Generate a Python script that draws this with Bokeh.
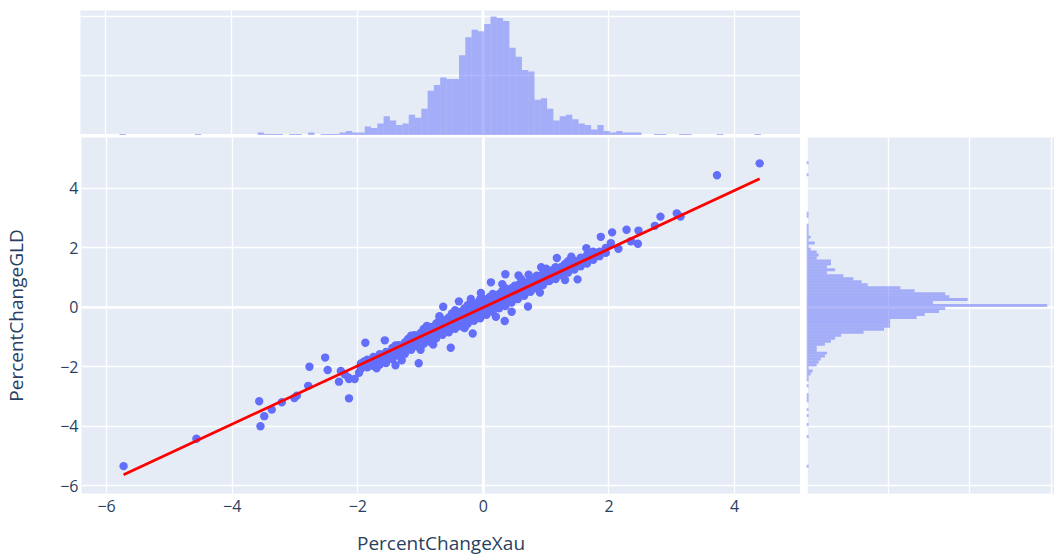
import numpy as np
from bokeh.plotting import figure
from bokeh.layouts import column, row
from bokeh.models import Range1d, FixedTicker, Span, Spacer
from bokeh.embed import file_html
from bokeh.resources import INLINE

# Daily percentage change: spot gold (Xau) against the GLD ETF
pct_change_xau = [
    # tails and stray points
    -5.73, -4.57, -3.57, -3.49, -3.55, -3.37, -3.21, -3.01, -2.97, -2.79,
    -2.77, -2.52, -2.48, -2.30, -2.27, -2.21, -2.15, -2.14, -2.05, -2.14,
    -1.88, -1.57, -1.03, -1.00, -0.64, -0.52, -0.17, 0.12, 0.35, 0.56,
    0.72, 0.34, 0.71, 1.50, 1.17, 0.92, 1.64, 1.87, 2.05, 2.28,
    2.47, 2.46, 2.35, 2.15, 2.03, 2.73, 2.82, 3.08, 3.14, 3.72,
    4.40, -0.39, -0.04, 1.71,
    -1.30, -0.80, -0.30, 0.20, 0.45, 0.90, 1.30, -0.70, -0.20, 0.30,
    0.60, 1.00, 1.40, -1.70, -1.40, -1.98,
    # main cloud
    -1.95, -1.95,
    -1.85, -1.85, -1.85,
    -1.75, -1.75, -1.75,
    -1.65, -1.65, -1.65,
    -1.55, -1.55, -1.55,
    -1.45, -1.45, -1.45,
    -1.35, -1.35, -1.35,
    -1.25, -1.25, -1.25,
    -1.15, -1.15, -1.15, -1.15,
    -1.05, -1.05, -1.05,
    -0.95, -0.95, -0.95, -0.95,
    -0.85, -0.85, -0.85, -0.85,
    -0.75, -0.75, -0.75, -0.75,
    -0.65, -0.65, -0.65, -0.65,
    -0.55, -0.55, -0.55, -0.55,
    -0.45, -0.45, -0.45, -0.45, -0.45,
    -0.35, -0.35, -0.35, -0.35,
    -0.25, -0.25, -0.25, -0.25, -0.25,
    -0.15, -0.15, -0.15, -0.15,
    -0.05, -0.05, -0.05, -0.05, -0.05,
    0.05, 0.05, 0.05, 0.05,
    0.15, 0.15, 0.15, 0.15, 0.15,
    0.25, 0.25, 0.25, 0.25,
    0.35, 0.35, 0.35, 0.35, 0.35,
    0.45, 0.45, 0.45, 0.45,
    0.55, 0.55, 0.55, 0.55,
    0.65, 0.65, 0.65, 0.65,
    0.75, 0.75, 0.75, 0.75,
    0.85, 0.85, 0.85, 0.85,
    0.95, 0.95, 0.95, 0.95,
    1.05, 1.05, 1.05,
    1.15, 1.15, 1.15, 1.15,
    1.25, 1.25, 1.25,
    1.35, 1.35, 1.35, 1.35,
    1.45, 1.45, 1.45,
    1.55, 1.55, 1.55,
    1.65, 1.65, 1.65,
    1.75, 1.75, 1.75,
    1.85, 1.85,
    1.95, 1.95,
    -1.90, -1.90,
    -1.80, -1.80,
    -1.70, -1.70,
    -1.60, -1.60,
    -1.50, -1.50,
    -1.40, -1.40, -1.40,
    -1.30, -1.30,
    -1.20, -1.20, -1.20,
    -1.10, -1.10, -1.10,
    -1.00, -1.00, -1.00,
    -0.90, -0.90, -0.90, -0.90,
    -0.80, -0.80, -0.80,
    -0.70, -0.70, -0.70, -0.70,
    -0.60, -0.60, -0.60,
    -0.50, -0.50, -0.50, -0.50,
    -0.40, -0.40, -0.40,
    -0.30, -0.30, -0.30, -0.30,
    -0.20, -0.20, -0.20,
    -0.10, -0.10, -0.10, -0.10,
    0.00, 0.00, 0.00, 0.00,
    0.10, 0.10, 0.10, 0.10,
    0.20, 0.20, 0.20,
    0.30, 0.30, 0.30, 0.30,
    0.40, 0.40, 0.40,
    0.50, 0.50, 0.50, 0.50,
    0.60, 0.60, 0.60,
    0.70, 0.70, 0.70,
    0.80, 0.80, 0.80,
    0.90, 0.90, 0.90,
    1.00, 1.00,
    1.10, 1.10, 1.10,
    1.20, 1.20,
    1.30, 1.30, 1.30,
    1.40, 1.40,
    1.50, 1.50,
    1.60, 1.60,
    1.70, 1.70,
    1.80,
    1.90,
]
pct_change_gld = [
    # tails and stray points
    -5.34, -4.42, -3.16, -3.66, -4.00, -3.44, -3.19, -3.05, -2.97, -2.64,
    -2.00, -1.69, -2.11, -2.50, -2.14, -2.25, -2.36, -2.41, -2.41, -3.06,
    -1.19, -1.11, -1.88, -1.43, 0.02, -1.36, -0.88, 0.84, 1.11, 1.07,
    1.10, -0.46, 0.03, 0.94, 1.66, 1.35, 1.99, 2.37, 2.52, 2.61,
    2.58, 2.14, 2.22, 1.97, 2.16, 2.74, 3.05, 3.16, 3.05, 4.44,
    4.84, 0.20, 0.48, 1.82,
    -1.78, -1.25, -0.70, -0.32, -0.15, 0.50, 0.92, -0.30, 0.28, 0.78,
    0.95, 1.30, 1.70, -2.05, -1.95, -2.20,
    # main cloud
    -2.07, -1.89,
    -2.02, -1.87, -1.76,
    -1.97, -1.80, -1.67,
    -1.92, -1.74, -1.58,
    -1.87, -1.67, -1.50,
    -1.74, -1.56, -1.37,
    -1.63, -1.43, -1.27,
    -1.56, -1.36, -1.18,
    -1.43, -1.25, -1.07, -0.95,
    -1.31, -1.13, -0.95,
    -1.23, -1.05, -0.88, -0.73,
    -1.16, -0.99, -0.82, -0.66,
    -1.04, -0.86, -0.69, -0.54,
    -0.92, -0.74, -0.58, -0.42,
    -0.84, -0.67, -0.50, -0.34,
    -0.72, -0.54, -0.38, -0.22, -0.10,
    -0.64, -0.46, -0.29, -0.14,
    -0.55, -0.39, -0.22, -0.07, 0.07,
    -0.45, -0.27, -0.11, 0.05,
    -0.37, -0.20, -0.03, 0.13, 0.28,
    -0.25, -0.07, 0.10, 0.25,
    -0.15, 0.01, 0.18, 0.33, 0.45,
    -0.03, 0.15, 0.31, 0.45,
    0.04, 0.21, 0.38, 0.52, 0.64,
    0.16, 0.34, 0.50, 0.64,
    0.28, 0.44, 0.59, 0.74,
    0.39, 0.56, 0.71, 0.84,
    0.52, 0.68, 0.82, 0.94,
    0.64, 0.79, 0.94, 1.06,
    0.75, 0.89, 1.03, 1.13,
    0.88, 1.03, 1.17,
    0.95, 1.10, 1.25, 1.35,
    1.08, 1.23, 1.37,
    1.17, 1.31, 1.45, 1.55,
    1.27, 1.42, 1.56,
    1.38, 1.54, 1.67,
    1.47, 1.62, 1.76,
    1.60, 1.75, 1.87,
    1.72, 1.87,
    1.83, 2.00,
    -1.97, -1.82,
    -1.95, -1.79,
    -1.89, -1.72,
    -1.82, -1.63,
    -1.72, -1.53,
    -1.60, -1.42, -1.28,
    -1.48, -1.30,
    -1.40, -1.22, -1.06,
    -1.28, -1.10, -0.94,
    -1.18, -1.02, -0.86,
    -1.10, -0.93, -0.78, -0.63,
    -0.99, -0.83, -0.67,
    -0.89, -0.72, -0.57, -0.42,
    -0.81, -0.64, -0.49,
    -0.69, -0.53, -0.37, -0.21,
    -0.59, -0.43, -0.27,
    -0.52, -0.35, -0.20, -0.04,
    -0.40, -0.24, -0.08,
    -0.32, -0.16, 0.00, 0.15,
    -0.20, -0.04, 0.12, 0.28,
    -0.12, 0.05, 0.20, 0.35,
    0.00, 0.16, 0.32,
    0.08, 0.25, 0.40, 0.55,
    0.19, 0.35, 0.51,
    0.29, 0.44, 0.59, 0.73,
    0.41, 0.56, 0.71,
    0.53, 0.69, 0.83,
    0.64, 0.79, 0.93,
    0.76, 0.91, 1.04,
    0.88, 1.03,
    0.98, 1.13, 1.25,
    1.10, 1.25,
    1.20, 1.35, 1.46,
    1.31, 1.46,
    1.41, 1.55,
    1.51, 1.65,
    1.62, 1.75,
    1.77,
    1.85,
]
assert len(pct_change_xau) == len(pct_change_gld)

# Marginal histogram counts, bins of width 0.1
bin_width = 0.1
xau_bin_start = -5.78
xau_counts = [
    1, 0, 0, 0, 0, 0, 0, 0, 0, 0,
    0, 0, 1, 0, 0, 0, 0, 0, 0, 0,
    0, 0, 2, 1, 1, 1, 0, 1, 1, 0,
    2, 0, 1, 1, 1, 2, 3, 2, 2, 6,
    5, 8, 13, 10, 7, 8, 14, 12, 18, 30,
    34, 39, 38, 38, 54, 66, 71, 70, 75, 80,
    79, 77, 59, 53, 44, 43, 24, 25, 18, 10,
    13, 14, 11, 8, 7, 4, 7, 3, 2, 3,
    2, 2, 2, 0, 0, 1, 1, 0, 0, 1,
    1, 0, 0, 0, 0, 1, 0, 0, 0, 0,
    0, 1,
]
gld_bin_start = -5.39
gld_counts = [
    1, 0, 0, 0, 0, 0, 0, 0, 0, 0,
    1, 0, 0, 0, 1, 0, 0, 1, 0, 1,
    0, 0, 1, 1, 1, 0, 0, 1, 0, 1,
    1, 2, 3, 1, 5, 6, 7, 9, 10, 5,
    5, 9, 12, 14, 17, 28, 38, 41, 41, 41,
    54, 58, 65, 68, 118, 62, 79, 70, 68, 53,
    46, 30, 27, 23, 18, 10, 14, 10, 12, 12,
    5, 6, 5, 2, 1, 4, 1, 2, 1, 1,
    1, 1, 0, 0, 1, 1, 0, 0, 0, 0,
    0, 0, 0, 0, 0, 0, 0, 0, 1, 0,
    0, 0, 1,
]

# OLS trendline of GLD on Xau
trend_slope = 0.982
trend_intercept = 0.0

axis_ticks = [-6, -4, -2, 0, 2, 4]
count_ticks = [40, 80, 120]

BG = "#E5ECF6"
MARK = "#636EFA"
TEXT = "#2a3f5f"
FONT = "Open Sans"
GRID_W = 1.4
ZERO_W = 2.8

x_rng = Range1d(-6.40, 5.05)
y_rng = Range1d(-6.26, 5.71)


def base_style(p):
    p.background_fill_color = BG
    p.border_fill_color = "white"
    p.outline_line_color = None
    for g in (p.xgrid, p.ygrid):
        g.grid_line_color = "white"
        g.grid_line_width = GRID_W


def zero_lines(p):
    # zero lines sit under the data, like the grid
    for dim in ("height", "width"):
        p.add_layout(Span(location=0, dimension=dim, level="underlay",
                          line_color="white", line_width=ZERO_W))


# ---- main scatter ----
main = figure(width=800, height=423, x_range=x_rng, y_range=y_rng,
              output_backend="svg", toolbar_location=None,
              min_border_left=80, min_border_right=0,
              min_border_top=2, min_border_bottom=63)
base_style(main)
zero_lines(main)

main.scatter(pct_change_xau, pct_change_gld, size=8.4, color=MARK,
             line_color=None)
x_lo, x_hi = min(pct_change_xau), max(pct_change_xau)
main.line([x_lo, x_hi],
          [trend_intercept + trend_slope * x_lo, trend_intercept + trend_slope * x_hi],
          line_color="red", line_width=2.8)

labels = {t: str(t).replace("-", "\u2212") for t in axis_ticks}
for ax in (main.xaxis, main.yaxis):
    ax.ticker = FixedTicker(ticks=axis_ticks)
    ax.major_label_overrides = labels
    ax.axis_line_color = None
    ax.major_tick_line_color = None
    ax.minor_tick_line_color = None
    ax.major_tick_out = 0
    ax.major_tick_in = 0
    ax.major_label_text_font = FONT
    ax.major_label_text_font_size = "16px"
    ax.major_label_text_color = TEXT
    ax.axis_label_text_font = FONT
    ax.axis_label_text_font_size = "19px"
    ax.axis_label_text_font_style = "normal"
    ax.axis_label_text_color = TEXT
main.xaxis.axis_label = "PercentChangeXau"
main.yaxis.axis_label = "PercentChangeGLD"
main.xaxis.major_label_standoff = 6
main.xaxis.axis_label_standoff = 15
main.yaxis.major_label_standoff = 3
main.yaxis.axis_label_standoff = 28
main.xgrid.ticker = FixedTicker(ticks=axis_ticks)
main.ygrid.ticker = FixedTicker(ticks=axis_ticks)

# ---- top marginal histogram (Xau) ----
top = figure(width=800, height=135, x_range=x_rng, y_range=Range1d(0, 84),
             output_backend="svg", toolbar_location=None,
             x_axis_location=None, y_axis_location=None,
             min_border_left=80, min_border_right=0,
             min_border_top=10, min_border_bottom=0)
base_style(top)
top.xgrid.ticker = FixedTicker(ticks=axis_ticks)
top.ygrid.ticker = FixedTicker(ticks=count_ticks)
zero_lines(top)
xe = xau_bin_start + bin_width * np.arange(len(xau_counts) + 1)
xc = np.array(xau_counts)
keep = xc > 0
top.quad(left=xe[:-1][keep], right=xe[1:][keep], bottom=0, top=xc[keep],
         fill_color=MARK, fill_alpha=0.5, line_color=None)

# ---- right marginal histogram (GLD) ----
right = figure(width=254, height=423, x_range=Range1d(0, 121.6), y_range=y_rng,
               output_backend="svg", toolbar_location=None,
               x_axis_location=None, y_axis_location=None,
               min_border_left=6, min_border_right=0,
               min_border_top=2, min_border_bottom=63)
base_style(right)
right.xgrid.ticker = FixedTicker(ticks=count_ticks)
right.ygrid.ticker = FixedTicker(ticks=axis_ticks)
zero_lines(right)
ye = gld_bin_start + bin_width * np.arange(len(gld_counts) + 1)
yc = np.array(gld_counts)
keep = yc > 0
right.quad(left=0, right=yc[keep], bottom=ye[:-1][keep], top=ye[1:][keep],
           fill_color=MARK, fill_alpha=0.5, line_color=None)

layout = column(row(top, Spacer(width=254, height=135)), row(main, right))

open("out.html", "w").write(file_html(layout, INLINE))
